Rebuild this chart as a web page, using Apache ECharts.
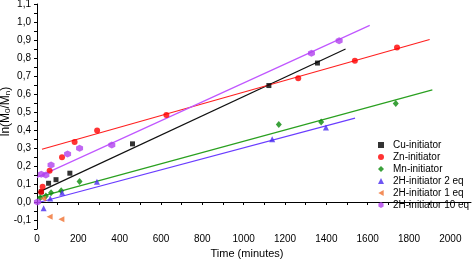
<!DOCTYPE html>
<html>
<head>
<meta charset="utf-8">
<script src="https://cdn.jsdelivr.net/npm/echarts@6/dist/echarts.min.js"></script>
<style>html,body{margin:0;padding:0;background:#fff}#c{width:473px;height:265px}</style>
</head>
<body>
<div id="c"></div>
<script>
var cuX = [21, 56, 92, 159, 462, 1122, 1357];
var cuY = [0.057, 0.104, 0.124, 0.160, 0.323, 0.647, 0.772];
var znX = [20, 27, 61, 121, 182, 291, 626, 1264, 1538, 1742];
var znY = [0.055, 0.085, 0.173, 0.249, 0.334, 0.397, 0.484, 0.688, 0.785, 0.859];
var mnX = [16, 43, 68, 117, 206, 1170, 1375, 1736];
var mnY = [0.024, 0.033, 0.052, 0.063, 0.114, 0.430, 0.445, 0.547];
var h2X = [32, 64, 122, 290, 1138, 1398];
var h2Y = [-0.035, 0.020, 0.052, 0.113, 0.349, 0.414];
var h1X = [30, 61, 118];
var h1Y = [0.020, -0.082, -0.096];
var h10X = [2, 21, 43, 68, 148, 206, 362, 1328, 1462];
var h10Y = [0.000, 0.154, 0.150, 0.206, 0.267, 0.299, 0.317, 0.827, 0.896];

var cuFitX = [3, 1493], cuFitY = [0.052, 0.850];
var znFitX = [24, 1900], znFitY = [0.293, 0.903];
var mnFitX = [3, 1913], mnFitY = [0.026, 0.623];
var h2FitX = [3, 1539], h2FitY = [-0.004, 0.466];
var h10FitX = [0, 1610], h10FitY = [0.137, 0.981];

var names = ['Cu-initiator', 'Zn-initiator', 'Mn-initiator', '2H-initiator 2 eq', '2H-initiator 1 eq', '2H-initiator 10 eq'];

function pairs(xs, ys) { return xs.map(function (x, i) { return [x, ys[i]]; }); }

var FONT = "'Liberation Sans', Arial, sans-serif";
var hex = 'path://M0,-10 L8.66,-5 L8.66,5 L0,10 L-8.66,5 L-8.66,-5 Z';
var leftTri = 'path://M0,5 L9,0 L9,10 Z';

function sc(name, xs, ys, color, symbol, size) {
  return {
    type: 'scatter', name: name, data: pairs(xs, ys),
    symbol: symbol, symbolSize: size,
    itemStyle: { color: color }, z: 3
  };
}
function fit(xs, ys, color) {
  return {
    type: 'line', data: pairs(xs, ys), symbol: 'none', silent: true,
    lineStyle: { color: color, width: 1.2 }, z: 2
  };
}

var chart = echarts.init(document.getElementById('c'), null, { renderer: 'canvas' });
chart.setOption({
  animation: false,
  backgroundColor: '#fff',
  grid: { left: 37, right: 2, top: 4, bottom: 36, containLabel: false, outerBoundsMode: 'none' },
  xAxis: {
    type: 'value', min: 0, max: 2100, interval: 100,
    name: 'Time (minutes)', nameLocation: 'middle', nameGap: 19, nameMoveOverlap: false,
    nameTextStyle: { fontFamily: FONT, fontSize: 11, color: '#000', padding: [0, 14, 0, 0] },
    axisLine: { lineStyle: { color: '#000', width: 1 } },
    axisTick: { inside: false, length: 3, lineStyle: { color: '#000' } },
    axisLabel: {
      fontFamily: FONT, fontSize: 10, color: '#000', margin: 5,
      showMaxLabel: false,
      formatter: function (v) { return (Math.round(v) % 200 === 0) ? String(Math.round(v)) : ''; }
    },
    splitLine: { show: false }
  },
  yAxis: {
    type: 'value', min: -0.15, max: 1.1, interval: 0.05,
    name: 'ln(M{sub|0}/M{sub|n})', nameLocation: 'middle', nameGap: 25, nameRotate: 90,
    nameMoveOverlap: false,
    nameTextStyle: {
      fontFamily: FONT, fontSize: 12, color: '#000', padding: [0, 0, 0, 10],
      rich: { sub: { fontFamily: FONT, fontSize: 8, color: '#000', verticalAlign: 'bottom', padding: [4, 0, 0, 0] } }
    },
    axisLine: { onZero: false, lineStyle: { color: '#000', width: 1 } },
    axisTick: { inside: false, length: 3, lineStyle: { color: '#000' } },
    axisLabel: {
      fontFamily: FONT, fontSize: 10, color: '#000', margin: 6,
      formatter: function (v) {
        var k = Math.round(v * 100);
        if (k % 10 !== 0) return '';
        return (k / 100).toFixed(1).replace('.', ',');
      }
    },
    splitLine: { show: false }
  },
  legend: {
    orient: 'vertical', left: 378, top: 139,
    itemWidth: 6, itemHeight: 6, itemGap: 0, padding: 0,
    textStyle: { fontFamily: FONT, fontSize: 10, lineHeight: 12, color: '#000', padding: [0, 0, 0, 4] },
    data: names
  },
  series: [
    fit(cuFitX, cuFitY, '#111111'),
    fit(znFitX, znFitY, '#ff2020'),
    fit(mnFitX, mnFitY, '#2aa020'),
    fit(h2FitX, h2FitY, '#6a3cff'),
    fit(h10FitX, h10FitY, '#c057ff'),
    sc(names[0], cuX, cuY, '#000000', 'rect', 5),
    sc(names[1], znX, znY, '#ff0000', 'circle', 6),
    sc(names[2], mnX, mnY, '#0a8a0a', 'diamond', [6, 7]),
    sc(names[3], h2X, h2Y, '#4a2cf0', 'triangle', 6),
    sc(names[4], h1X, h1Y, '#f07030', leftTri, 6),
    sc(names[5], h10X, h10Y, '#b040ee', hex, 7)
  ]
});
</script>
</body>
</html>
